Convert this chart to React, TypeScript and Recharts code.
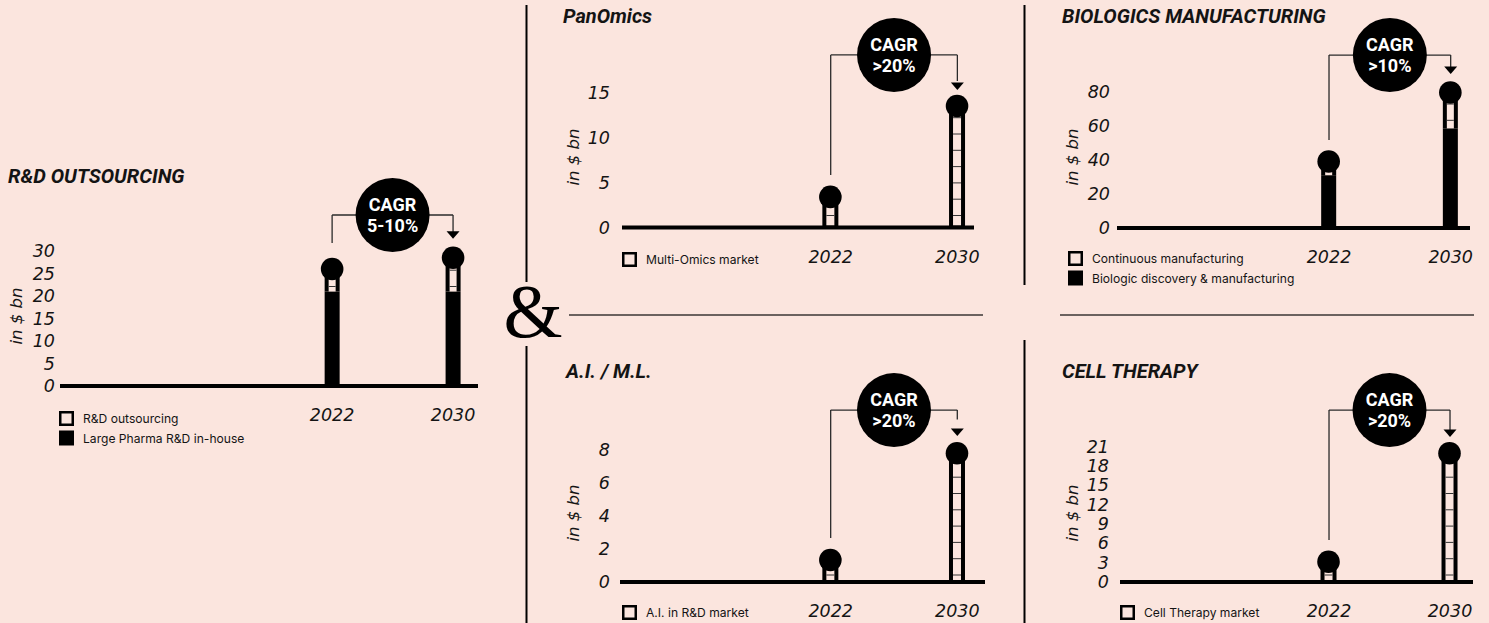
import React from 'react';
import { ComposedChart, Bar, XAxis, YAxis, ReferenceLine, ReferenceDot } from 'recharts';

const BG = '#FBE5DE';
const INK = '#000';
const TEXT = '#141414';

// ---------- data ----------
const years = [2022, 2030];

const rdInhouse = [21, 21];
const rdOutsourcing = [5, 7.5];
const rdTicks = [0, 5, 10, 15, 20, 25, 30];

const panOmicsMarket = [3.4, 13.5];
const panTicks = [0, 5, 10, 15];

const bioDiscovery = [31, 58.5];
const bioContinuous = [8, 21];
const bioTicks = [0, 20, 40, 60, 80];

const aiMarket = [1.33, 7.8];
const aiTicks = [0, 2, 4, 6, 8];

const cellMarket = [3.15, 20];
const cellTicks = [0, 3, 6, 9, 12, 15, 18, 21];

const titles = ['R&D OUTSOURCING', 'PanOmics', 'BIOLOGICS MANUFACTURING', 'A.I. / M.L.', 'CELL THERAPY'];
const cagrLabels = ['5-10%', '>20%', '>10%', '>20%', '>20%'];

const rdData = years.map((year, i) => ({ year, inhouse: rdInhouse[i], outsourcing: rdOutsourcing[i] }));
const panData = years.map((year, i) => ({ year, market: panOmicsMarket[i] }));
const bioData = years.map((year, i) => ({ year, discovery: bioDiscovery[i], continuous: bioContinuous[i] }));
const aiData = years.map((year, i) => ({ year, market: aiMarket[i] }));
const cellData = years.map((year, i) => ({ year, market: cellMarket[i] }));

type Kind = 'solid' | 'hollow';
type SeriesDef = { key: string; name: string; kind: Kind };

// ---------- shapes ----------
const TICK_STEP = 16.3;

const makeShape = (kind: Kind, isBottom: boolean, isTop: boolean, tickStart: number) => (props: any) => {
  const { x, y, width, height } = props;
  if (x == null || y == null || !(height > 0)) return <g />;
  const cx = x + width / 2;
  const base = y + height;
  const b = 4;
  const parts: any[] = [];
  if (kind === 'solid') {
    parts.push(<rect key="r" x={x} y={y} width={width} height={height} fill={INK} />);
  } else {
    parts.push(<rect key="o" x={x} y={y} width={width} height={height} fill={INK} />);
    const innerH = height - (isBottom ? 2 : 0);
    parts.push(<rect key="i" x={x + b} y={y} width={width - 2 * b} height={Math.max(0, innerH)} fill={BG} />);
    for (let ty = base - tickStart, k = 0; ty > y + 2; ty -= TICK_STEP, k++) {
      parts.push(<line key={'t' + k} x1={x + b} x2={x + width - b} y1={ty} y2={ty} stroke="#333" strokeWidth={1} />);
    }
  }
  if (isBottom) {
    parts.push(
      <polygon key="p" points={`${cx - width / 2 - 0.5},${base} ${cx + width / 2 + 0.5},${base} ${cx},${base + 10.5}`} fill={INK} />
    );
  }
  if (isTop) {
    parts.push(<circle key="c" cx={cx} cy={y} r={11.3} fill={INK} />);
  }
  return <g>{parts}</g>;
};

const YTick = (props: any) => {
  const { x, y, payload } = props;
  return (
    <text x={x} y={y + 6} textAnchor="end" fontFamily="DejaVu Sans" fontStyle="italic" fontSize={17.5} fill={TEXT}>
      {payload.value}
    </text>
  );
};

const XTick = (props: any) => {
  const { x, y, payload } = props;
  return (
    <text x={x} y={y + 35} textAnchor="middle" fontFamily="DejaVu Sans" fontStyle="italic" fontSize={17.5} fill={TEXT}>
      {payload.value}
    </text>
  );
};

const cagrShape = (label: string) => (p: any) => (
  <g>
    <circle cx={p.cx} cy={p.cy} r={37} fill={INK} />
    <text x={p.cx} y={p.cy - 4} textAnchor="middle" fill="#fff" fontFamily="Roboto" fontWeight={700} fontSize={18}>
      CAGR
    </text>
    <text x={p.cx} y={p.cy + 17} textAnchor="middle" fill="#fff" fontFamily="Roboto" fontWeight={700} fontSize={18}>
      {label}
    </text>
  </g>
);

const arrowShape = (p: any) => (
  <polygon points={`${p.cx - 6.5},${p.cy - 7.5} ${p.cx + 6.5},${p.cy - 7.5} ${p.cx},${p.cy}`} fill={INK} />
);

// ---------- panels ----------
type PanelDef = {
  title: string;
  cagr: string;
  data: any[];
  series: SeriesDef[];
  yTicks: number[];
  yMax: number;
  xDomain: [number, number];
  box: { left: number; top: number; width: number; height: number };
  margin: { top: number; right: number; bottom: number; left: number };
  yAxisWidth: number;
  xAxisHeight: number;
  yTickGap: number;
  ann: { h: number; start: number; tip: number; mid: number };
  legend: { x: number; y: number };
  titlePos: { x: number; y: number };
  yLabelPos: { x: number; y: number };
  barSize: number;
  tickStart: number;
};

const panels: PanelDef[] = [
  {
    title: titles[0],
    cagr: cagrLabels[0],
    data: rdData,
    series: [
      { key: 'inhouse', name: 'Large Pharma R&D in-house', kind: 'solid' },
      { key: 'outsourcing', name: 'R&D outsourcing', kind: 'hollow' },
    ],
    yTicks: rdTicks,
    yMax: 50,
    xDomain: [2004, 2031.65],
    box: { left: 0, top: 150, width: 490, height: 300 },
    margin: { top: 11, right: 12, bottom: 24, left: 30 },
    yAxisWidth: 30,
    xAxisHeight: 40,
    yTickGap: 5,
    ann: { h: 38, start: 31.8, tip: 32.7, mid: 2026 },
    legend: { x: 59, y: 411 },
    titlePos: { x: 8, y: 183 },
    yLabelPos: { x: 16, y: 316 },
    barSize: 15,
    tickStart: 5,
  },
  {
    title: titles[1],
    cagr: cagrLabels[1],
    data: panData,
    series: [{ key: 'market', name: 'Multi-Omics market', kind: 'hollow' }],
    yTicks: panTicks,
    yMax: 24,
    xDomain: [2008.82, 2031.05],
    box: { left: 560, top: 0, width: 440, height: 290 },
    margin: { top: 11.5, right: 26, bottom: 22.5, left: 22 },
    yAxisWidth: 40,
    xAxisHeight: 40,
    yTickGap: 12,
    ann: { h: 19.17, start: 5.83, tip: 15.28, mid: 2026 },
    legend: { x: 622, y: 252 },
    titlePos: { x: 563, y: 23 },
    yLabelPos: { x: 573, y: 157 },
    barSize: 16,
    tickStart: 12,
  },
  {
    title: titles[2],
    cagr: cagrLabels[2],
    data: bioData,
    series: [
      { key: 'discovery', name: 'Biologic discovery & manufacturing', kind: 'solid' },
      { key: 'continuous', name: 'Continuous manufacturing', kind: 'hollow' },
    ],
    yTicks: bioTicks,
    yMax: 127,
    xDomain: [2008.06, 2031.27],
    box: { left: 1060, top: 0, width: 429, height: 290 },
    margin: { top: 11.6, right: 19, bottom: 22, left: 17 },
    yAxisWidth: 40,
    xAxisHeight: 40,
    yTickGap: 7,
    ann: { h: 101.5, start: 51.6, tip: 90.4, mid: 2026 },
    legend: { x: 1068, y: 251 },
    titlePos: { x: 1062, y: 23 },
    yLabelPos: { x: 1072, y: 157 },
    barSize: 15,
    tickStart: 8,
  },
  {
    title: titles[3],
    cagr: cagrLabels[3],
    data: aiData,
    series: [{ key: 'market', name: 'A.I. in R&D market', kind: 'hollow' }],
    yTicks: aiTicks,
    yMax: 13.5,
    xDomain: [2008.69, 2031.75],
    box: { left: 560, top: 350, width: 440, height: 273 },
    margin: { top: 9.25, right: 15, bottom: 11, left: 20 },
    yAxisWidth: 40,
    xAxisHeight: 30,
    yTickGap: 10,
    ann: { h: 10.42, start: 2.67, tip: 8.85, mid: 2026 },
    legend: { x: 622, y: 605 },
    titlePos: { x: 566, y: 378 },
    yLabelPos: { x: 573, y: 513 },
    barSize: 16,
    tickStart: 7,
  },
  {
    title: titles[4],
    cagr: cagrLabels[4],
    data: cellData,
    series: [{ key: 'market', name: 'Cell Therapy market', kind: 'hollow' }],
    yTicks: cellTicks,
    yMax: 34.6,
    xDomain: [2008.18, 2031.52],
    box: { left: 1060, top: 350, width: 429, height: 273 },
    margin: { top: 9.2, right: 16, bottom: 11, left: 20 },
    yAxisWidth: 40,
    xAxisHeight: 30,
    yTickGap: 11,
    ann: { h: 26.7, start: 6.52, tip: 22.5, mid: 2026 },
    legend: { x: 1120, y: 605 },
    titlePos: { x: 1062, y: 378 },
    yLabelPos: { x: 1072, y: 513 },
    barSize: 16,
    tickStart: 7,
  },
];

function Panel({ p }: { p: PanelDef }) {
  const n = p.series.length;
  const [y0, y1] = years;
  return (
    <div style={{ position: 'absolute', left: p.box.left, top: p.box.top }}>
      <ComposedChart width={p.box.width} height={p.box.height} data={p.data} margin={p.margin}>
        <XAxis
          type="number"
          dataKey="year"
          domain={p.xDomain}
          ticks={years}
          interval={0}
          allowDataOverflow
          tickLine={false}
          tickSize={0}
          tickMargin={0}
          height={p.xAxisHeight}
          axisLine={{ stroke: INK, strokeWidth: 4 }}
          tick={XTick}
        />
        <YAxis
          type="number"
          domain={[0, p.yMax]}
          ticks={p.yTicks}
          interval={0}
          allowDataOverflow
          width={p.yAxisWidth}
          axisLine={false}
          tickLine={false}
          tickSize={0}
          tickMargin={p.yTickGap}
          tick={YTick}
        />
        {p.series.map((s, i) => (
          <Bar
            key={s.key}
            dataKey={s.key}
            name={s.name}
            stackId="s"
            barSize={p.barSize}
            isAnimationActive={false}
            shape={makeShape(s.kind, i === 0, i === n - 1, p.tickStart)}
          />
        ))}
        <ReferenceLine segment={[{ x: y0, y: p.ann.start }, { x: y0, y: p.ann.h }]} stroke="#2a2a2a" strokeWidth={1.3} />
        <ReferenceLine segment={[{ x: y0, y: p.ann.h }, { x: y1, y: p.ann.h }]} stroke="#2a2a2a" strokeWidth={1.3} />
        <ReferenceLine segment={[{ x: y1, y: p.ann.h }, { x: y1, y: p.ann.tip + 1 }]} stroke="#2a2a2a" strokeWidth={1.3} />
        <ReferenceDot x={y1} y={p.ann.tip} r={7} shape={arrowShape} />
        <ReferenceDot x={p.ann.mid} y={p.ann.h} r={37} shape={cagrShape(p.cagr)} />
      </ComposedChart>
    </div>
  );
}

function Overlay() {
  return (
    <svg width={1489} height={623} style={{ position: 'absolute', left: 0, top: 0 }}>
      <line x1={526.5} y1={5} x2={526.5} y2={282} stroke={INK} strokeWidth={2} />
      <line x1={526.5} y1={346} x2={526.5} y2={623} stroke={INK} strokeWidth={2} />
      <line x1={1024.5} y1={5} x2={1024.5} y2={285} stroke={INK} strokeWidth={2} />
      <line x1={1024.5} y1={340} x2={1024.5} y2={623} stroke={INK} strokeWidth={2} />
      <line x1={569} y1={315} x2={983} y2={315} stroke="#6b625f" strokeWidth={2} />
      <line x1={1060} y1={315} x2={1474} y2={315} stroke="#6b625f" strokeWidth={2} />
      <text x={533} y={337} textAnchor="middle" fontFamily="Liberation Serif" fontSize={76} fill={INK}>
        {'&'}
      </text>
      {panels.map((p, pi) => (
        <g key={pi}>
          <text
            x={p.titlePos.x}
            y={p.titlePos.y}
            fontFamily="Roboto"
            fontWeight={700}
            fontStyle="italic"
            fontSize={20}
            fill={TEXT}
          >
            {p.title}
          </text>
          <text
            x={p.yLabelPos.x}
            y={p.yLabelPos.y}
            transform={`rotate(-90 ${p.yLabelPos.x} ${p.yLabelPos.y})`}
            textAnchor="middle"
            dominantBaseline="central"
            fontFamily="DejaVu Sans"
            fontStyle="italic"
            fontSize={16.5}
            fill={TEXT}
          >
            in $ bn
          </text>
          {[...p.series].reverse().map((s, si) => {
            const lx = p.legend.x;
            const ly = p.legend.y + si * 19.5;
            return (
              <g key={s.key}>
                {s.kind === 'solid' ? (
                  <rect x={lx} y={ly} width={15} height={15} fill={INK} />
                ) : (
                  <rect x={lx + 1.25} y={ly + 1.25} width={12.5} height={12.5} fill="none" stroke={INK} strokeWidth={2.5} />
                )}
                <text x={lx + 24} y={ly + 12} fontFamily="Inter" fontSize={12.1} fill={TEXT}>
                  {s.name}
                </text>
              </g>
            );
          })}
        </g>
      ))}
    </svg>
  );
}

export default function App() {
  return (
    <div
      style={{
        position: 'absolute',
        left: 0,
        top: 0,
        width: 1489,
        height: 623,
        background: BG,
        overflow: 'hidden',
      }}
    >
      <Overlay />
      {panels.map((p, i) => (
        <Panel key={i} p={p} />
      ))}
    </div>
  );
}
